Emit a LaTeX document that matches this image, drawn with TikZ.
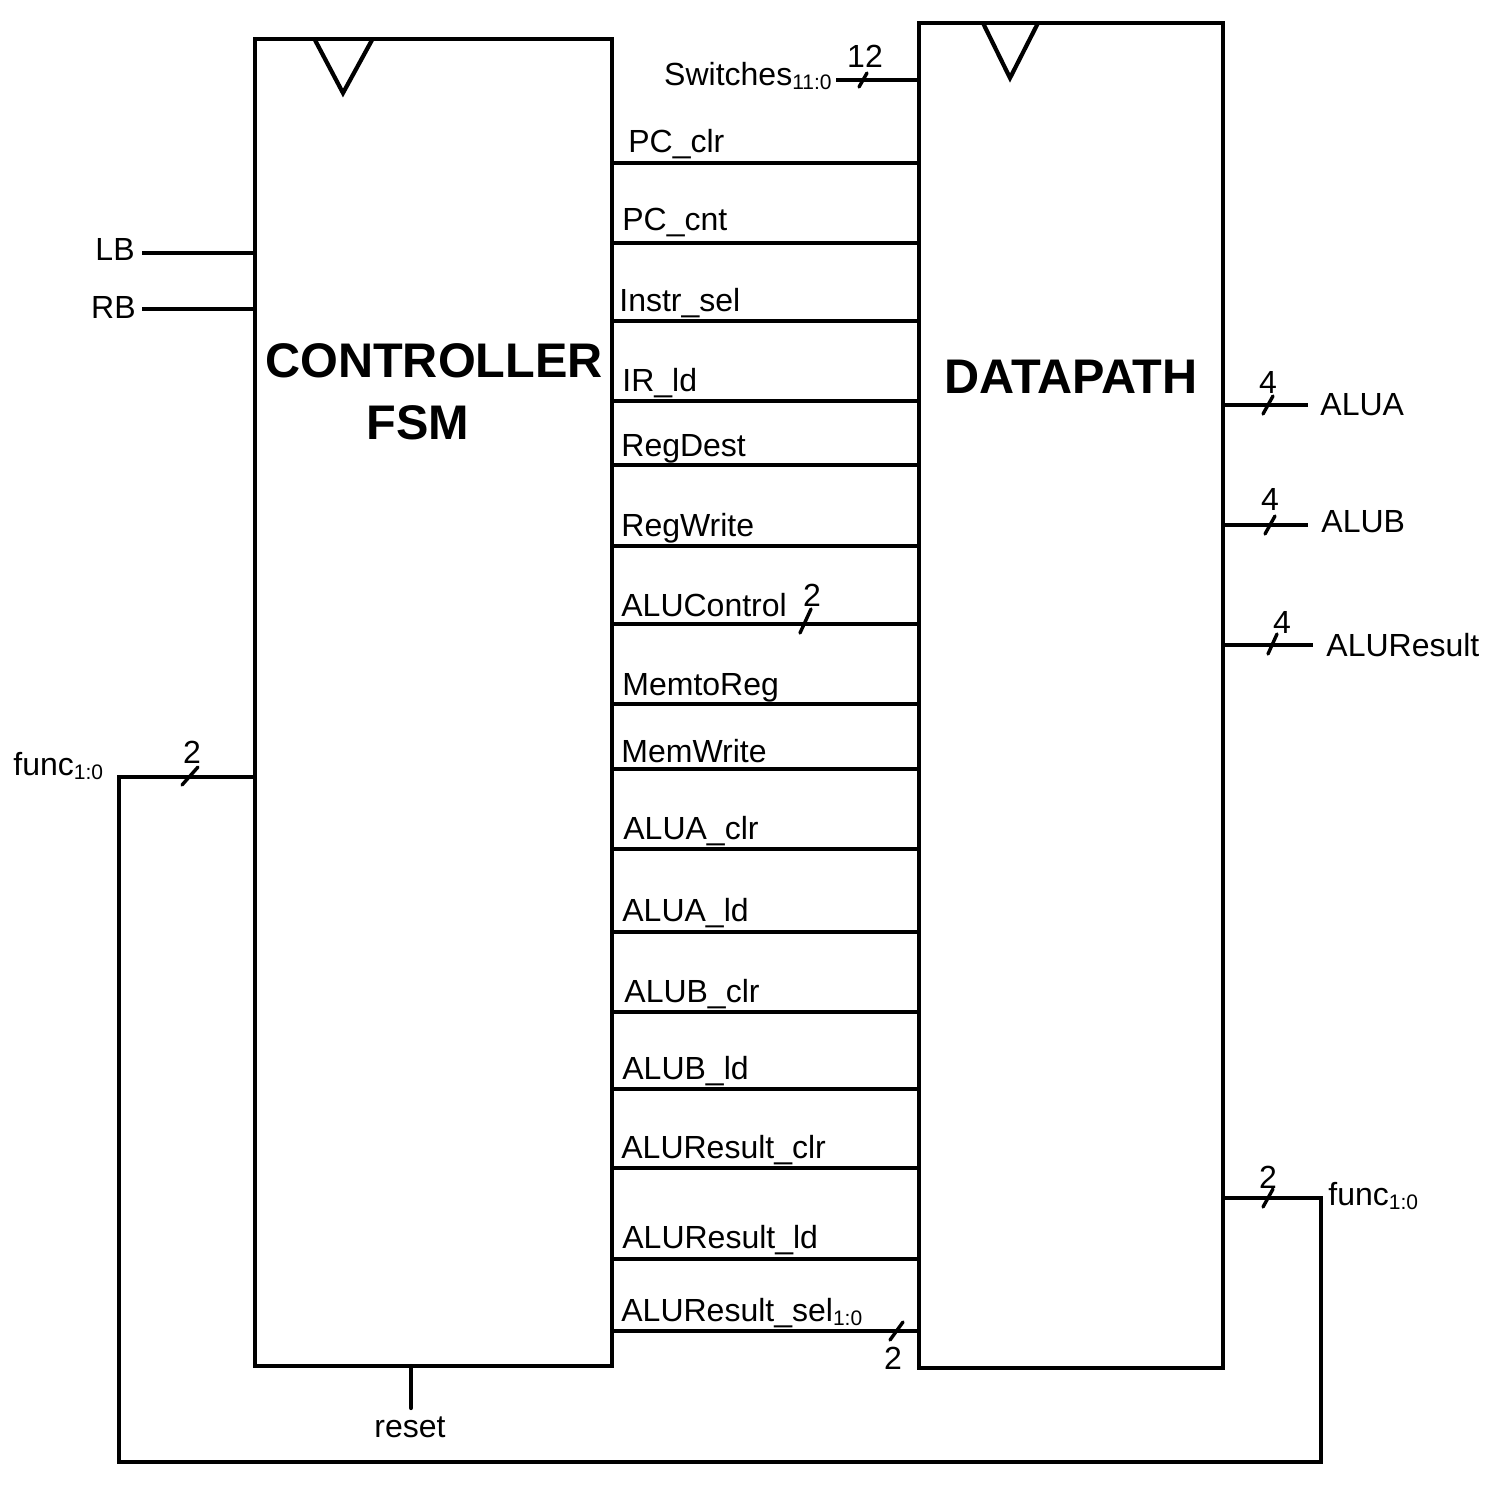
\documentclass[tikz,border=0pt]{standalone}
\usepackage{fontspec}
\setmainfont{Liberation Sans}
\newcommand\sbs[1]{\raisebox{-2pt}{\fontsize{10.5}{12}\selectfont #1}}
\tikzset{
  wire/.style={line width=2.1pt},
  blk/.style={draw, line width=2.1pt, inner sep=0pt, outer sep=0pt},
  lbl/.style={inner sep=0pt, font=\fontsize{16}{19}\selectfont},
  big/.style={inner sep=0pt, font=\fontsize{24.3}{28}\selectfont\bfseries},
  bus/.style={line width=1.7pt, line cap=round},
}
\begin{document}
\begin{tikzpicture}[x=0.5pt,y=-0.5pt]
\useasboundingbox (0,0) rectangle (1500,1496);
% blocks
\node[blk, minimum width=178.5pt, minimum height=663.5pt] (ctrl) at (433.5,702.5) {};
\node[blk, minimum width=152pt, minimum height=672.5pt] (dp) at (1071,695.5) {};
% clock triangles
\draw[wire, line join=miter] (315,40) -- (343,93) -- (372,40);
\draw[wire, line join=miter] (983,23) -- (1010,78) -- (1038,23);
% titles
\node[big] (t1) at (434,361) {CONTROLLER};
\node[big] (t2) at (418,423) {FSM};
\node[big] (t3) at (1071,377) {DATAPATH};
% control signals
\foreach \y/\b/\x/\t/\n in {
  163/152/628/PC\_clr/s1,
  243/230/622/PC\_cnt/s2,
  321/311/619/Instr\_sel/s3,
  401/391/622/IR\_ld/s4,
  465/456/621/RegDest/s5,
  546/536/621/RegWrite/s6,
  624/616/621/ALUControl/s7,
  704/695/622/MemtoReg/s8,
  769/762/621/MemWrite/s9,
  849/839/623/ALUA\_clr/s10,
  932/921/622/ALUA\_ld/s11,
  1012/1002/624/ALUB\_clr/s12,
  1089/1079/622/ALUB\_ld/s13,
  1168/1158/621/ALUResult\_clr/s14,
  1259/1248/622/ALUResult\_ld/s15}{
  \draw[wire] (ctrl.east |- 0,\y) -- (dp.west |- 0,\y);
  \node[lbl, anchor=base west] (\n) at (\x,\b) {\t};
}
\draw[wire] (ctrl.east |- 0,1331) -- (dp.west |- 0,1331);
\node[lbl, anchor=base west] (s16) at (621,1321) {ALUResult\_sel\sbs{1:0}};
% bus marks between blocks
\draw[bus] (800,633) -- (811,609);
\node[lbl] (w7) at (812,595) {2};
\draw[bus] (890,1340) -- (903,1322);
\node[lbl] (w16) at (893,1358) {2};
% switches
\coordinate (sw) at (836,80);
\draw[wire] (sw) -- (dp.west |- sw);
\node[lbl, anchor=base east] (swl) at (832,85) {Switches\sbs{11:0}};
\draw[bus] (859,87) -- (867,73);
\node[lbl] (w12) at (865,56) {12};
% LB RB
\coordinate (lb) at (142,253);
\coordinate (rb) at (142,309);
\draw[wire] (lb) -- (ctrl.west |- lb);
\draw[wire] (rb) -- (ctrl.west |- rb);
\node[lbl, anchor=base east] (lbl) at (135,260) {LB};
\node[lbl, anchor=base east] (rbl) at (136,318) {RB};
% reset
\coordinate (rs) at (411,1408);
\draw[wire, line cap=round] (ctrl.south -| rs) -- (rs);
\node[lbl, anchor=base] (rsl) at (410,1437) {reset};
% func loop
\coordinate (fa) at (119,777);
\coordinate (fb) at (119,1462);
\coordinate (fc) at (1321,1462);
\coordinate (fd) at (1321,1198);
\draw[wire, line join=miter] (ctrl.west |- fa) -- (fa) -- (fb) -- (fc) -- (fd) -- (dp.east |- fd);
\draw[bus] (182,785) -- (198,767);
\node[lbl] (wf1) at (192,752) {2};
\node[lbl, anchor=base west] (fl1) at (13,775) {func\sbs{1:0}};
\draw[bus] (1263,1207) -- (1273,1189);
\node[lbl] (wf2) at (1268,1177) {2};
\node[lbl, anchor=base west] (fl2) at (1328,1205) {func\sbs{1:0}};
% outputs
\coordinate (oa) at (1308,405);
\coordinate (ob) at (1308,525);
\coordinate (oc) at (1313,645);
\draw[wire] (dp.east |- oa) -- (oa);
\draw[wire] (dp.east |- ob) -- (ob);
\draw[wire] (dp.east |- oc) -- (oc);
\draw[bus] (1263,414) -- (1273,396);
\draw[bus] (1265,534) -- (1275,516);
\draw[bus] (1268,654) -- (1277,634);
\node[lbl] (wa) at (1268,382) {4};
\node[lbl] (wb) at (1270,499) {4};
\node[lbl] (wc) at (1282,622) {4};
\node[lbl, anchor=base west] (al) at (1320,415) {ALUA};
\node[lbl, anchor=base west] (bl) at (1321,532) {ALUB};
\node[lbl, anchor=base west] (cl) at (1326,656) {ALUResult};
\end{tikzpicture}
\end{document}
